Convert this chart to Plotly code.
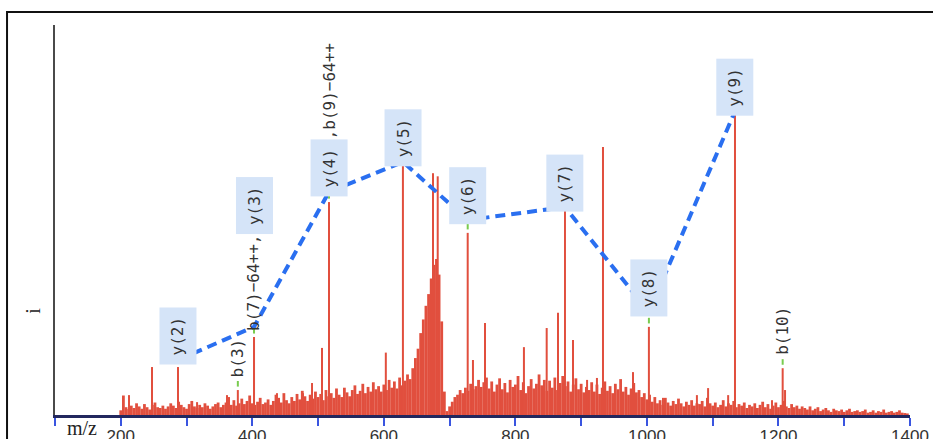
import plotly.graph_objects as go

# ---------------------------------------------------------------- data ----
# background ion signal, one value every NOISE_STEP m/z starting at NOISE_START
NOISE_START, NOISE_STEP = 200, 4
noise_int = [
    1.2, 5.0, 2.0, 1.5, 2.4, 1.8, 3.0, 2.2, 1.6, 2.8, 2.0, 1.4, 2.6, 3.2, 2.0, 1.8, 2.4, 1.6, 2.2, 3.0,
    2.4, 1.8, 3.4, 2.6, 2.0, 1.6, 2.8, 3.6, 2.2, 1.8, 2.6, 2.0, 3.0, 2.4, 1.6, 2.2, 2.8, 3.2, 2.0, 2.6,
    3.2, 4.6, 2.6, 3.8, 2.4, 3.0, 4.2, 2.8, 3.6, 5.0, 3.0, 2.6, 3.4, 4.4, 2.8, 3.2, 4.0, 2.6, 3.6, 5.2,
    4.4, 3.2, 5.6, 3.8, 3.0, 4.6, 3.6, 5.4, 4.0, 6.2, 4.8, 3.6, 5.2, 4.2, 6.0, 4.6, 5.4, 3.8, 6.4, 4.8,
    5.6, 4.4, 6.8, 5.2, 4.6, 7.0, 5.8, 4.8, 6.4, 7.6, 5.4, 6.2, 8.0, 5.6, 7.2, 6.0, 8.4, 6.6, 7.4, 6.0,
    7.8, 6.4, 9.0, 7.0, 8.6, 6.8, 9.6, 7.6, 8.8, 10.4, 9.2, 12.0, 14.6, 17.0, 21.0, 24.5, 28.0, 31.0, 35.0, 38.5,
    40.0, 36.0, 24.0, 6.0, 1.0, 2.2, 3.4, 4.6, 5.2, 6.4, 5.6, 7.0, 6.2, 8.0, 6.6, 7.4, 9.0, 7.2, 8.4, 9.6,
    6.8, 8.6, 6.0, 7.8, 9.4, 6.6, 8.2, 5.8, 9.0, 7.2, 7.8, 10.0, 6.4, 8.4, 5.6, 7.4, 9.2, 6.8, 8.0, 10.4,
    7.6, 9.0, 6.2, 8.8, 7.0, 9.6, 6.4, 8.2, 10.0, 7.4, 8.6, 6.0, 7.8, 9.4, 6.6, 8.0, 5.8, 7.2, 6.4, 8.4,
    6.0, 7.8, 5.4, 7.0, 8.6, 6.2, 7.4, 5.6, 8.0, 6.6, 9.2, 6.0, 7.2, 5.2, 6.8, 8.2, 5.8, 6.4, 4.6, 5.6,
    4.0, 5.2, 3.4, 4.6, 3.0, 3.8, 2.6, 4.4, 3.2, 2.4, 3.6, 2.8, 4.2, 3.0, 2.2, 3.4, 2.6, 3.8, 2.4, 3.0,
    2.8, 3.6, 2.2, 4.4, 3.0, 2.4, 3.2, 2.0, 2.6, 3.8, 2.2, 3.0, 2.6, 3.6, 2.0, 2.8, 2.4, 3.2, 1.8, 2.6,
    2.2, 3.0, 1.8, 2.6, 3.4, 2.0, 2.8, 1.6, 2.4, 3.2, 2.0, 2.6, 3.6, 2.2, 1.8, 2.8, 2.0, 2.4, 1.6, 2.2,
    1.8, 1.4, 2.2, 1.2, 1.6, 2.0, 1.0, 1.4, 1.8, 1.2, 0.8, 1.6, 1.2, 1.0, 1.4, 0.8, 1.2, 1.6, 0.8, 1.0,
    1.2, 0.8, 1.0, 1.4, 0.6, 0.8, 1.2, 0.6, 1.0, 0.8, 1.4, 0.6, 0.8, 1.0, 0.6, 0.8, 1.2, 0.6, 0.5, 0.4,
]

# unassigned peaks standing out of the background
peak_mz = [212.5, 247.5, 316, 361.5, 437.5, 477, 490.8, 506, 603, 674.7, 681.9,
           735.5, 753.8, 813, 847.6, 864.8, 887.6, 909, 924, 933.2, 978.8,
           1024.4, 1076, 1093, 1123.5, 1190.2, 1210]
peak_int = [5.1, 12.3, 3.3, 5.1, 5.6, 5.6, 8.2, 17.2, 16.0, 62.0, 61.2,
            14.1, 23.6, 17.4, 22.3, 26.2, 19.2, 9.0, 9.5, 68.7, 11.0,
            4.4, 5.1, 6.9, 5.1, 3.8, 6.4]

# assigned fragment ions
ion_mz = [287, 378, 402.6, 516.6, 629, 727.5, 875.4, 1003, 1133.9, 1206.4]
ion_int = [12.3, 6.4, 20.0, 54.6, 64.6, 46.7, 53.1, 22.6, 77.5, 12.0]
ion_label = ["y(2)", "b(3)", "b(7)−64++,y(3)", "y(4),b(9)−64++", "y(5)",
             "y(6)", "y(7)", "y(8)", "y(9)", "b(10)"]

# y-ion ladder
ypath_mz = [287, 402.6, 516.6, 629, 727.5, 875.4, 1003, 1133.9]
ypath_int = [14.1, 22.6, 57.2, 64.9, 50.0, 53.3, 26.4, 77.9]

tick_vals = list(range(100, 1401, 100))
tick_text = [str(v) if v % 200 == 0 else "" for v in tick_vals]

# --------------------------------------------------------------- style ----
RED = "#e14f3e"
LABEL_FONT = dict(family="DejaVu Sans Mono", size=16, color="#333333")
CHAR_W = 0.602 * 16
BOX_PAD = 9


def sticks(mz, inten):
    xs, ys = [], []
    for m, h in zip(mz, inten):
        xs += [m, m, None]
        ys += [0, h, None]
    return xs, ys


def split_label(lab):
    parts = lab.split(",")
    out = []
    for i, p in enumerate(parts):
        if i > 0:
            if p.startswith("y"):
                out[-1] = out[-1] + ","
            else:
                p = "," + p
        out.append(p)
    return out


noise_mz = [NOISE_START + i * NOISE_STEP for i in range(len(noise_int))]

fig = go.Figure()

nx, ny = sticks(noise_mz, noise_int)
fig.add_trace(go.Scatter(x=nx, y=ny, mode="lines",
                         line=dict(color=RED, width=2.8), hoverinfo="skip"))

px_, py_ = sticks(peak_mz + ion_mz, peak_int + ion_int)
fig.add_trace(go.Scatter(x=px_, y=py_, mode="lines",
                         line=dict(color=RED, width=2), hoverinfo="skip"))

fig.add_trace(go.Scatter(x=ypath_mz, y=ypath_int, mode="lines",
                         line=dict(color="#2a6ff0", width=4, dash="10px,6px"),
                         hoverinfo="skip"))

fig.add_trace(go.Scatter(x=ion_mz, y=[h + 1.6 for h in ion_int], mode="markers",
                         marker=dict(symbol="line-ns-open", size=4, color="#79cc4f",
                                     line=dict(color="#79cc4f", width=2)),
                         hoverinfo="skip"))

annotations = []
for m, h, lab in zip(ion_mz, ion_int, ion_label):
    if m in ypath_mz:
        base, shift = ypath_int[ypath_mz.index(m)], -4
    else:
        base, shift = h, 13
    for part in split_label(lab):
        boxed = part.startswith("y")
        annotations.append(dict(
            x=m, y=base, xref="x", yref="y", xanchor="center", yanchor="bottom",
            yshift=shift, text=part, textangle=-90, showarrow=False,
            font=LABEL_FONT,
            bgcolor="#d5e4f8" if boxed else "rgba(0,0,0,0)",
            borderpad=BOX_PAD if boxed else 0, borderwidth=0,
        ))
        shift += len(part) * CHAR_W + (2 * BOX_PAD if boxed else 0)

annotations.append(dict(
    x=0.012, y=0.0, xref="paper", yref="paper", xanchor="left", yanchor="top",
    text="m/z", showarrow=False,
    font=dict(family="Liberation Serif", size=20, color="#222222"),
))
annotations.append(dict(
    x=-0.026, y=0.267, xref="paper", yref="paper", xanchor="center", yanchor="middle",
    text="i", textangle=-90, showarrow=False,
    font=dict(family="Liberation Serif", size=20, color="#222222"),
))

fig.update_layout(
    width=933, height=439,
    margin=dict(l=55, r=23, t=25, b=24),
    paper_bgcolor="white", plot_bgcolor="white",
    showlegend=False,
    annotations=annotations,
    shapes=[dict(type="rect", xref="paper", yref="paper",
                 x0=-0.0561, x1=1.2, y0=-0.3, y1=1.0333,
                 line=dict(color="#111111", width=2), fillcolor="rgba(0,0,0,0)")],
    xaxis=dict(range=[100, 1400], tickvals=tick_vals, ticktext=tick_text,
               ticks="outside", ticklen=8, tickwidth=2, tickcolor="#3a55e0",
               tickfont=dict(family="Liberation Sans", size=17, color="#333333"),
               ticklabelstandoff=-4,
               showline=True, linecolor="#22275e", linewidth=3,
               showgrid=False, zeroline=False, layer="above traces",
               automargin=False),
    yaxis=dict(range=[0, 100], showline=True, linecolor="#4a4a4a", linewidth=2,
               showticklabels=False, ticks="", showgrid=False, zeroline=False,
               automargin=False),
)

fig.write_html("out.html")
